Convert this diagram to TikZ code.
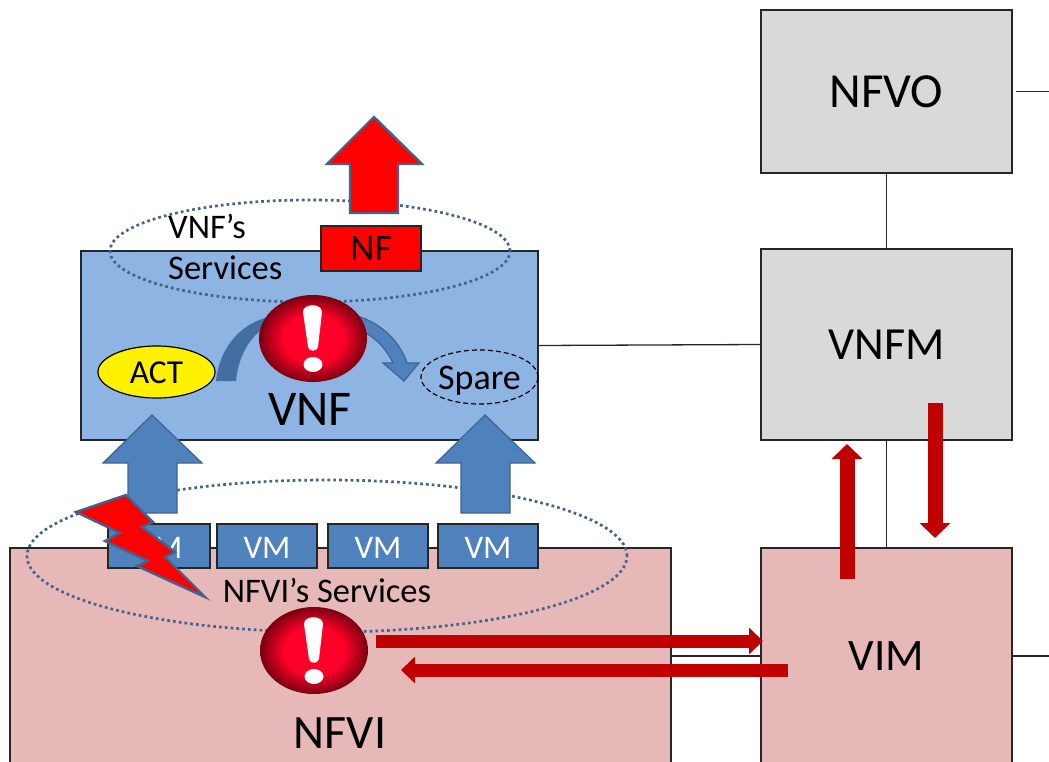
\documentclass[tikz,border=0pt]{standalone}
\usepackage{fontspec}
\setmainfont{Carlito}
\usetikzlibrary{shapes.geometric,arrows.meta}
\definecolor{mgrey}{HTML}{D9D9D9}
\definecolor{mpink}{HTML}{E6B9B8}
\definecolor{msky}{HTML}{8EB4E3}
\definecolor{mblue}{HTML}{4F81BD}
\definecolor{medge}{HTML}{41648F}
\definecolor{mdarkred}{HTML}{C00000}
\definecolor{alertred}{HTML}{FF0028}
\definecolor{alertdark}{HTML}{7A0010}
\pgfdeclareradialshading{alertball}{\pgfpointorigin}{color(0bp)=(alertred); color(14bp)=(alertred); color(25bp)=(alertdark); color(50bp)=(alertdark)}
\tikzset{
  block/.style={draw=black!85,line width=1.4pt,inner sep=0pt,font=\fontsize{46}{46}\selectfont},
  link/.style={line width=1.3pt,black!85},
  vmbox/.style={draw=black!85,fill=mblue,line width=1.4pt,inner sep=0pt,text=white,minimum width=100pt,minimum height=44pt,font=\fontsize{33}{33}\selectfont},
  service/.style={ellipse,draw=medge,line width=2.7pt,dash pattern=on 2.7pt off 3.1pt,inner sep=0pt},
  label/.style={inner sep=0pt,font=\fontsize{34.5}{34.5}\selectfont},
  biglabel/.style={inner sep=0pt,font=\fontsize{48}{48}\selectfont},
  blockarrow/.style={draw=medge,line width=2.4pt,line join=miter},
  flowarrow/.style={draw=mdarkred,line width=13pt,-{Triangle[width=26pt,length=14pt]}},
  flowarrowv/.style={draw=mdarkred,line width=15pt,-{Triangle[width=30pt,length=15pt]}},
  alert/.style={ellipse,shading=alertball,draw=none,inner sep=0pt,minimum width=108pt,minimum height=87pt}
}
\begin{document}
\begin{tikzpicture}[x=1pt,y=-1pt]
  \useasboundingbox (0,0) rectangle (1049,762);
  % management boxes
  \node[block,fill=mgrey,minimum width=251pt,minimum height=163pt,font=\fontsize{49}{49}\selectfont] (nfvo) at (886.5,91.5) {NFVO};
  \node[block,fill=mgrey,minimum width=251pt,minimum height=191pt] (vnfm) at (886.5,344.5) {VNFM};
  \node[block,fill=mpink,minimum width=251pt,minimum height=216pt,font=\fontsize{45}{45}\selectfont] (vim) at (886.5,656) {VIM};
  \node[block,fill=mpink,minimum width=661pt,minimum height=260pt] (nfvi) at (340.5,678) {};
  \node[block,fill=msky,minimum width=457pt,minimum height=189pt] (vnf) at (309.5,345.5) {};

  % connectors
  \coordinate (nfvoout) at (1049,91.5);
  \coordinate (vimout) at (1049,656);
  \draw[link] (nfvo) -- (vnfm);
  \draw[link] (vnfm) -- (vim);
  \draw[link] (vnf.east) -- (vnfm.west);
  \draw[link] (vim.west) -- (vim.west -| nfvi.east);
  \draw[link,shorten <=3pt] (nfvo.east) -- (nfvoout);
  \draw[link] (vim.east) -- (vimout);

  % service rings
  \node[service,minimum width=400pt,minimum height=102pt] (vnfring) at (310,251) {};
  \node[service,minimum width=600pt,minimum height=152pt] (nfviring) at (327,556) {};

  % VMs
  \node[vmbox,minimum width=102pt] (vm1) at (159,546) {\raisebox{-1.5pt}[\height][0pt]{VM}};
  \node[vmbox] (vm2) at (267,546) {\raisebox{-1.5pt}[\height][0pt]{VM}};
  \node[vmbox] (vm3) at (378,546) {\raisebox{-1.5pt}[\height][0pt]{VM}};
  \node[vmbox] (vm4) at (488,546) {\raisebox{-1.5pt}[\height][0pt]{VM}};

  % up arrows
  \draw[blockarrow,fill=red] (374,117) -- (422,164) -- (398,164) -- (398,213) -- (350,213) -- (350,164) -- (327,164) -- cycle;
  \draw[medge,line width=1.2pt,fill=mblue] (152,415) -- (202,463) -- (177,463) -- (177,513) -- (128,513) -- (128,463) -- (103,463) -- cycle;
  \draw[medge,line width=1.2pt,fill=mblue] (485,415) -- (535,463) -- (510,463) -- (510,513) -- (461,513) -- (461,463) -- (436,463) -- cycle;

  \node[draw=black!85,fill=red,line width=1.4pt,inner sep=0pt,minimum width=100pt,minimum height=45pt,font=\fontsize{37.5}{37.5}\selectfont] (nf) at (371,248.5) {NF};

  % switch over
  \fill[mblue!85!black] (216,381) .. controls (219,350) and (238,326) .. (265,318) -- (262,330) .. controls (249,338) and (238,358) .. (236,381) -- cycle;
  \draw[medge,line width=1.2pt,fill=mblue] (360,317) .. controls (382,324) and (400,342) .. (407,363) -- (419,363) -- (404,381) -- (383,363) -- (393,363) .. controls (386,348) and (374,336) .. (360,330) -- cycle;

  \node[ellipse,draw=black,fill=yellow,line width=1.2pt,inner sep=0pt,minimum width=117pt,minimum height=52pt,font=\fontsize{33.5}{33.5}\selectfont] (act) at (156.5,372) {\raisebox{-1pt}[\height][0pt]{ACT}};
  \node[ellipse,draw=black,dash pattern=on 5pt off 3pt,line width=1.2pt,inner sep=0pt,minimum width=117pt,minimum height=54pt,font=\fontsize{36}{36}\selectfont] (spare) at (479.5,377) {\raisebox{-4pt}[\height][\depth]{Spare}};

  % texts
  \node[label,anchor=west] (vnftext) at (168,226) {VNF’s};
  \node[label,anchor=west] (vnftextb) at (168,268) {Services};
  \node[label] (nfvitext) at (327,590) {NFVI’s Services};
  \node[biglabel,font=\fontsize{50}{50}\selectfont] (vnflabel) at (310,409) {VNF};
  \node[biglabel] (nfvilabel) at (340,733) {NFVI};

  % alerts
  \node[alert] (vnfalert) at (313,338.5) {};
  \fill[white] (303,312) .. controls (303,303) and (322,303) .. (322,312) -- (318,347) .. controls (317,352) and (309,352) .. (308,347) -- cycle;
  \node[ellipse,fill=white,inner sep=0pt,minimum width=19pt,minimum height=15pt] (vnfdot) at (313,364.5) {};
  \node[alert] (nfvialert) at (314,650.5) {};
  \fill[white] (304,624) .. controls (304,615) and (323,615) .. (323,624) -- (319,659) .. controls (318,664) and (310,664) .. (309,659) -- cycle;
  \node[ellipse,fill=white,inner sep=0pt,minimum width=19pt,minimum height=15pt] (nfvidot) at (314,676.5) {};

  % lightning
  \draw[blockarrow,fill=red,miter limit=20] (76,512) -- (126,495) -- (153,522) -- (142,527) -- (175,552) -- (165,557) -- (205,597) -- (137,566) -- (148,561) -- (105,541) -- (120,533) -- cycle;

  % red arrows
  \coordinate (nfviout) at (376,641);
  \coordinate (vimin) at (763,641);
  \coordinate (vimoutb) at (788,670);
  \coordinate (nfviin) at (401,670);
  \coordinate (vimup) at (847,579);
  \coordinate (vnfmin) at (847,444);
  \coordinate (vnfmdown) at (935,403);
  \coordinate (vimin2) at (935,538);
  \draw[flowarrow] (nfviout) -- (vimin);
  \draw[flowarrow] (vimoutb) -- (nfviin);
  \draw[flowarrowv] (vimup) -- (vnfmin);
  \draw[flowarrowv] (vnfmdown) -- (vimin2);
\end{tikzpicture}
\end{document}
